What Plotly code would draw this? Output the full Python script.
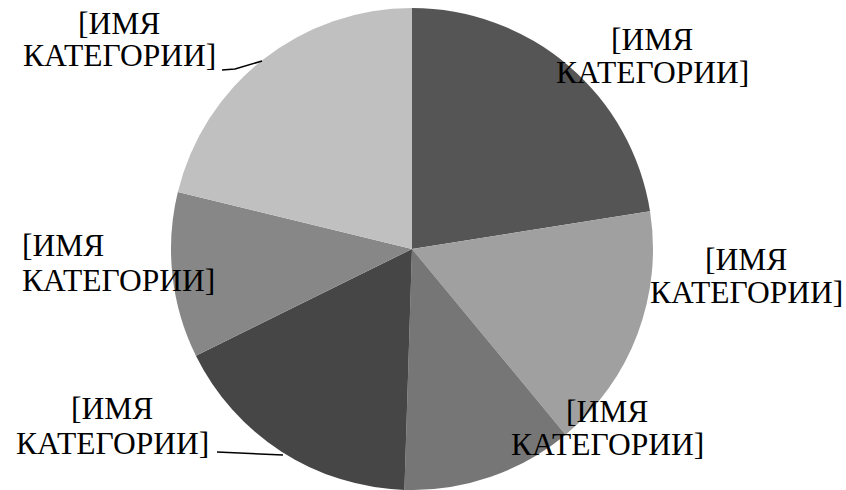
import plotly.graph_objects as go

categories = ["Кат1", "Кат2", "Кат3", "Кат4", "Кат5", "Кат6"]
values = [22.5, 16.5, 11.5, 17.2, 11.1, 21.2]
colors = ["#555555", "#a0a0a0", "#767676", "#464646", "#878787", "#c0c0c0"]
label_line1 = "[ИМЯ"
label_line2 = "КАТЕГОРИИ]"

W, H = 846, 490
FONT = dict(family="Liberation Serif", size=31.5, color="#000000")

fig = go.Figure(go.Pie(
    labels=categories, values=values, sort=False, direction="clockwise",
    rotation=0, textinfo="none", hoverinfo="label+value",
    marker=dict(colors=colors, line=dict(width=0)),
    domain=dict(x=[(412 - 241) / W, (412 + 241) / W], y=[0, 482 / H]),
    showlegend=False,
))

# label placement (pixel positions): (x, y_line1, y_line2, anchor)
label_pos = [
    (652, 40, 72, "center"),
    (746, 259, 292, "center"),
    (607, 411, 444, "center"),
    (112, 408, 443, "center"),
    (20, 245, 280, "left"),
    (119, 23, 55, "center"),
]
for x, y1, y2, anc in label_pos:
    for txt, yy in ((label_line1, y1), (label_line2, y2)):
        fig.add_annotation(x=x / W, y=1 - yy / H, xref="paper", yref="paper",
                           text=txt, showarrow=False, xanchor=anc, yanchor="middle",
                           font=FONT)

leaders = [
    [(222, 70), (235, 69), (262, 61)],
    [(217, 452), (283, 455)],
]
for pts in leaders:
    path = "M " + " L ".join(f"{px / W},{1 - py / H}" for px, py in pts)
    fig.add_shape(type="path", xref="paper", yref="paper", path=path,
                  line=dict(color="#000000", width=1.5))

fig.update_layout(width=W, height=H, margin=dict(l=0, r=0, t=0, b=0),
                  paper_bgcolor="white", plot_bgcolor="white")
fig.write_html("out.html")
